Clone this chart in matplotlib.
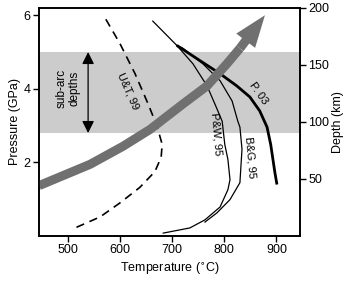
import matplotlib
matplotlib.use("Agg")
import matplotlib.pyplot as plt

plt.rcParams['font.family'] = ['Liberation Sans', 'DejaVu Sans']

# slab surface path (gray arrow)
arrow_T = [445, 543, 606, 658, 721, 767, 805, 830]
arrow_P = [1.37, 1.95, 2.44, 2.90, 3.59, 4.08, 4.68, 5.10]
arrow_tip = (878, 6.0)

# U&T 99 (dashed)
ut_T = [573, 600, 629, 654, 671, 681, 679, 667, 638, 600, 562, 514]
ut_P = [5.89, 5.23, 4.41, 3.59, 2.99, 2.49, 2.14, 1.75, 1.32, 0.90, 0.52, 0.22]

# P&W 95
pw_T = [663, 709, 740, 767, 782, 796, 801, 807, 811, 807, 792, 763, 734, 683]
pw_P = [5.84, 5.18, 4.68, 4.08, 3.59, 3.12, 2.49, 2.08, 1.53, 1.26, 0.79, 0.44, 0.22, 0.08]

# B&G 95
bg_T = [709, 721, 759, 792, 815, 826, 830, 834, 830, 811, 786, 763]
bg_P = [5.18, 5.10, 4.68, 4.22, 3.67, 3.12, 2.96, 2.36, 1.45, 0.99, 0.63, 0.38]

# P. 03
p03_T = [709, 753, 792, 824, 849, 868, 882, 889, 897, 901]
p03_P = [5.18, 4.77, 4.41, 4.08, 3.78, 3.40, 2.96, 2.49, 1.73, 1.40]

subarc = (2.8, 5.0)

fig = plt.figure(figsize=(3.52, 2.81), dpi=100)
ax = fig.add_axes([0.111, 0.160, 0.741, 0.812])

ax.axhspan(subarc[0], subarc[1], color='#cccccc', lw=0, zorder=0)

ax.plot(ut_T, ut_P, color='black', lw=1.2, ls=(0, (5, 3.5)))
ax.plot(pw_T, pw_P, color='black', lw=0.9)
ax.plot(bg_T, bg_P, color='black', lw=0.9)
ax.plot(p03_T, p03_P, color='black', lw=2.0, solid_capstyle='butt')

# thick gray arrow
ax.plot(arrow_T, arrow_P, color='#707070', lw=6.5, solid_capstyle='butt', zorder=3)
ax.annotate('', xy=arrow_tip, xytext=(arrow_T[-1], arrow_P[-1]),
            arrowprops=dict(facecolor='#707070', edgecolor='none', width=6.5,
                            headwidth=17, headlength=23, shrink=0), zorder=3)

# sub-arc depths double arrow
ax.annotate('', xy=(539, subarc[1]), xytext=(539, subarc[0]),
            arrowprops=dict(arrowstyle='<|-|>', color='black', lw=0.9,
                            mutation_scale=18, shrinkA=0, shrinkB=0))
ax.text(501, 4.0, 'sub-arc\ndepths', rotation=90, ha='center', va='center',
        fontsize=8.5, linespacing=1.05)

ax.text(615, 3.95, 'U&T, 99', rotation=-66, ha='center', va='center', fontsize=8)
ax.text(784, 2.77, 'P&W, 95', rotation=-85, ha='center', va='center', fontsize=8)
ax.text(850, 2.14, 'B&G, 95', rotation=-85, ha='center', va='center', fontsize=8)
ax.text(866, 3.89, 'P. 03', rotation=-55, ha='center', va='center', fontsize=8)

ax.set_xlim(445, 945)
ax.set_ylim(0, 6.2)
ax.set_xticks([500, 600, 700, 800, 900])
ax.set_yticks([2, 4, 6])
ax.set_xlabel('Temperature ($^{\\circ}$C)', fontsize=9, labelpad=3)
ax.set_ylabel('Pressure (GPa)', fontsize=9, labelpad=2)
ax.tick_params(direction='out', length=4, width=1.0, labelsize=9, pad=2)

ax2 = ax.twinx()
ax2.set_ylim(0, 200)
ax2.set_yticks([50, 100, 150, 200])
ax2.set_ylabel('Depth (km)', fontsize=9, labelpad=2)
ax2.tick_params(direction='out', length=4, width=1.0, labelsize=9, pad=2)

for a in (ax, ax2):
    for s in a.spines.values():
        s.set_linewidth(1.2)

fig.savefig('out.png', dpi=100)
